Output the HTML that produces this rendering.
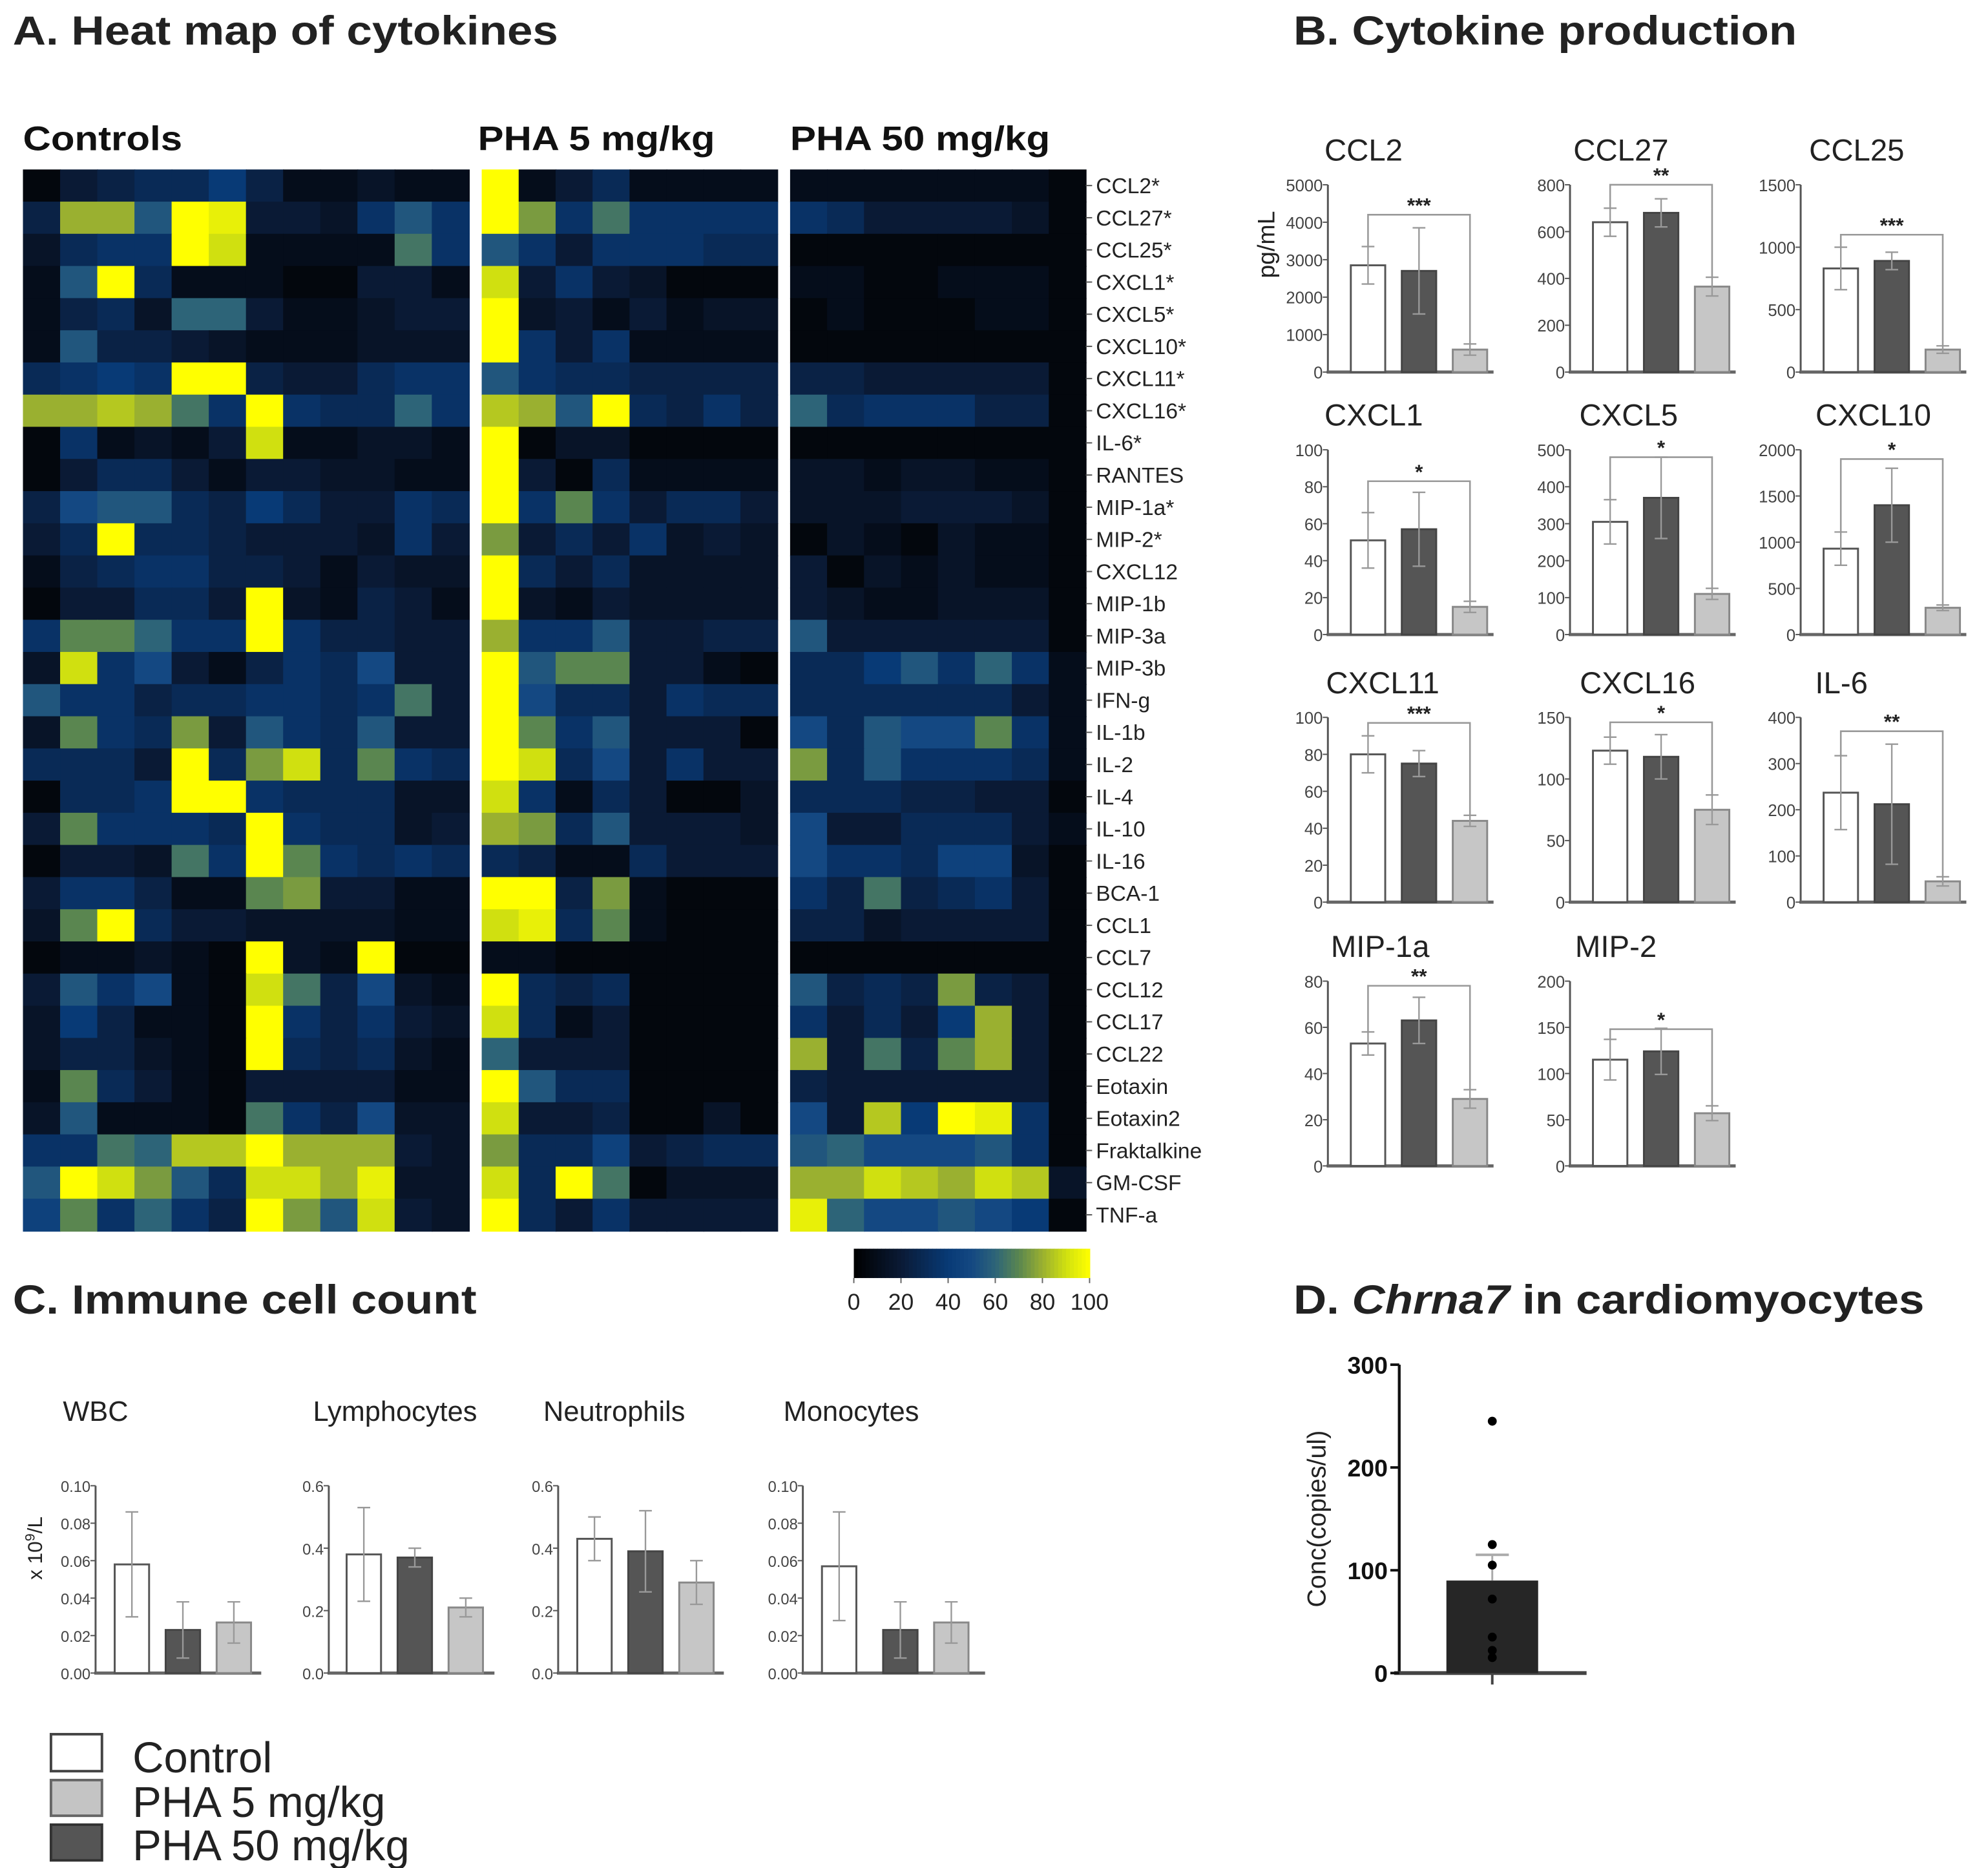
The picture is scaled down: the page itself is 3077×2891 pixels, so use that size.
<!DOCTYPE html>
<html><head><meta charset="utf-8"><style>
html,body{margin:0;padding:0;background:#fff;}
svg{display:block;font-family:"Liberation Sans",Arial,sans-serif;}
</style></head><body>
<svg id="fig" xmlns="http://www.w3.org/2000/svg" width="3077" height="2891" viewBox="0 0 1560 1466" preserveAspectRatio="none">
<rect x="0" y="0" width="1560" height="1466" fill="#fff"/>
<text x="10" y="35" font-size="32" font-weight="bold" textLength="428" lengthAdjust="spacingAndGlyphs" fill="#222">A. Heat map of cytokines</text>
<text x="1015" y="35" font-size="32" font-weight="bold" textLength="395" lengthAdjust="spacingAndGlyphs" fill="#222">B. Cytokine production</text>
<text x="10" y="1031" font-size="32" font-weight="bold" textLength="364" lengthAdjust="spacingAndGlyphs" fill="#222">C. Immune cell count</text>
<text x="1015" y="1031" font-size="32" font-weight="bold" textLength="495" lengthAdjust="spacingAndGlyphs" fill="#222">D. <tspan font-style="italic">Chrna7</tspan> in cardiomyocytes</text>
<text x="18" y="118" font-size="27" font-weight="bold" textLength="125" lengthAdjust="spacingAndGlyphs" fill="#111">Controls</text>
<text x="375" y="118" font-size="27" font-weight="bold" textLength="186" lengthAdjust="spacingAndGlyphs" fill="#111">PHA 5 mg/kg</text>
<text x="620" y="118" font-size="27" font-weight="bold" textLength="204" lengthAdjust="spacingAndGlyphs" fill="#111">PHA 50 mg/kg</text>
<g id="heat"></g>
<g id="cbar"></g>
<g id="panelB"></g>
<text transform="translate(1000,192) rotate(-90)" text-anchor="middle" font-size="19" fill="#222">pg/mL</text>
<g id="panelC"></g>
<text transform="translate(33,1215) rotate(-90)" text-anchor="middle" font-size="16" fill="#222">x 10<tspan dy="-6" font-size="11">9</tspan><tspan dy="6">/L</tspan></text>
<g id="panelD"></g>
<g>
<rect x="40" y="1361" width="40" height="29" fill="#fff" stroke="#444" stroke-width="2"/>
<text x="104" y="1391" font-size="34" fill="#222">Control</text>
<rect x="40" y="1397" width="40" height="28" fill="#c4c4c4" stroke="#666" stroke-width="2"/>
<text x="104" y="1426" font-size="34" fill="#222">PHA 5 mg/kg</text>
<rect x="40" y="1432" width="40" height="28" fill="#555" stroke="#333" stroke-width="2"/>
<text x="104" y="1460" font-size="34" fill="#222">PHA 50 mg/kg</text>
</g>
</svg>
<script>
// ---------- Heatmap data ----------
const heatRows = ["CCL2*","CCL27*","CCL25*","CXCL1*","CXCL5*","CXCL10*","CXCL11*","CXCL16*","IL-6*","RANTES","MIP-1a*","MIP-2*","CXCL12","MIP-1b","MIP-3a","MIP-3b","IFN-g","IL-1b","IL-2","IL-4","IL-10","IL-16","BCA-1","CCL1","CCL7","CCL12","CCL17","CCL22","Eotaxin","Eotaxin2","Fraktalkine","GM-CSF","TNF-a"];
const controlHeat = [
[5,20,25,30,30,40,25,10,10,15,10,10],
[25,80,80,55,100,95,20,20,15,35,55,35],
[15,30,35,35,100,90,10,10,10,10,65,35],
[10,55,100,30,10,10,10,5,5,20,20,10],
[10,25,30,15,60,60,20,10,10,15,20,20],
[10,55,25,25,20,15,10,10,10,15,15,15],
[30,35,40,35,100,100,25,20,20,30,35,35],
[80,80,85,80,65,35,100,35,30,30,60,35],
[5,35,10,15,10,20,90,10,10,15,15,10],
[5,20,30,30,20,10,20,20,15,15,10,10],
[25,50,55,55,30,25,40,30,20,20,35,30],
[20,30,100,30,30,25,20,20,20,15,35,20],
[10,25,30,35,35,25,25,20,10,20,15,15],
[5,20,20,30,30,20,100,15,10,25,20,10],
[35,70,70,60,35,35,100,35,25,25,20,20],
[15,90,35,50,20,10,25,35,30,50,20,20],
[55,35,35,25,30,30,35,35,30,35,65,20],
[15,70,35,30,75,20,55,35,30,55,20,20],
[30,30,30,20,100,30,75,90,30,70,35,30],
[5,30,30,35,100,100,35,30,30,30,15,15],
[20,70,35,35,35,30,100,35,30,30,15,20],
[5,20,20,15,65,35,100,70,35,30,35,30],
[20,35,35,25,10,10,70,75,20,20,10,10],
[15,70,100,30,20,20,15,15,15,15,10,10],
[5,10,10,15,10,5,100,15,10,100,5,5],
[20,55,35,50,10,5,90,65,25,50,15,10],
[15,40,25,10,10,5,100,35,25,35,20,15],
[15,25,25,15,10,5,100,30,25,30,15,10],
[10,70,30,20,10,5,20,20,20,20,10,10],
[15,55,10,10,10,5,65,35,25,50,15,15],
[35,35,65,60,85,85,100,80,80,80,20,15],
[55,100,90,75,55,30,90,90,80,95,15,15],
[45,70,35,60,35,25,100,75,55,90,20,15]];
const pha5Heat = [
[100,10,20,30,10,10,10,10],
[100,75,35,65,35,35,35,35],
[55,35,20,35,35,35,30,30],
[90,20,35,20,15,5,5,5],
[100,15,20,10,20,10,15,15],
[100,35,20,35,10,10,10,10],
[55,35,30,30,25,25,25,25],
[85,80,55,100,30,25,35,25],
[100,5,15,15,5,5,5,5],
[100,20,5,30,10,10,10,10],
[100,35,70,35,20,30,30,20],
[75,20,30,20,35,15,20,15],
[100,30,20,30,15,15,15,15],
[100,15,10,20,15,15,15,15],
[80,35,35,55,20,20,25,25],
[100,55,70,70,20,20,10,5],
[100,50,30,30,20,35,30,30],
[100,70,35,55,20,20,20,5],
[100,90,30,50,20,35,20,20],
[90,35,10,30,20,5,5,15],
[80,75,30,55,20,20,20,15],
[30,25,10,10,30,20,20,20],
[100,100,25,75,10,5,5,5],
[90,95,30,70,10,5,5,5],
[10,10,5,5,5,5,5,5],
[100,30,25,30,5,5,5,5],
[90,30,10,20,5,5,5,5],
[60,20,20,20,5,5,5,5],
[100,55,30,30,5,5,5,5],
[90,20,20,25,5,5,15,5],
[75,30,30,45,20,25,30,30],
[90,30,100,65,5,15,15,15],
[100,30,20,35,20,20,20,20]];
const pha50Heat = [
[10,10,10,10,10,10,10,5],
[35,30,20,20,20,20,15,5],
[5,5,5,5,5,5,5,5],
[10,10,5,5,10,10,10,5],
[5,10,5,5,5,10,10,5],
[5,5,5,5,5,5,5,5],
[25,25,20,20,20,20,20,5],
[60,30,35,35,35,25,25,5],
[5,5,5,5,5,5,5,5],
[15,15,10,15,15,10,10,5],
[15,15,15,20,20,20,15,5],
[5,15,10,5,15,10,10,5],
[20,5,15,10,15,10,10,5],
[20,15,10,10,15,15,15,5],
[55,20,20,20,20,20,20,5],
[30,30,40,55,35,60,35,10],
[30,30,30,30,30,30,20,10],
[50,30,55,50,50,70,35,10],
[75,30,55,35,35,35,30,10],
[30,30,30,25,25,20,20,5],
[50,20,20,30,30,30,20,10],
[50,35,35,30,45,45,15,5],
[35,25,65,25,30,35,20,5],
[25,25,15,20,20,20,20,5],
[5,5,5,5,5,5,5,5],
[55,25,30,25,75,25,20,5],
[35,20,30,20,40,80,20,5],
[80,20,65,25,70,80,20,5],
[25,20,20,20,20,20,20,5],
[50,20,85,40,100,95,35,5],
[55,60,50,50,50,55,35,5],
[80,80,90,85,80,90,85,15],
[95,60,50,50,55,50,40,5]];
const colorbarTicks = [0,20,40,60,80,100];

// ---------- Panel B data ----------
const cytoNames = ["CCL2","CCL27","CCL25","CXCL1","CXCL5","CXCL10","CXCL11","CXCL16","IL-6","MIP-1a","MIP-2"];
const cytoMeans = [[2850,2700,600],[640,680,365],[830,890,180],[51,57,15],[305,370,110],[930,1400,290],[80,75,44],[123,118,75],[237,212,45],[53,63,29],[115,124,57]];
const cytoErrors = [[500,1150,150],[60,60,40],[170,70,30],[15,20,3],[60,110,15],[180,400,30],[10,7,3],[11,18,12],[80,130,10],[5,10,4],[22,25,8]];
const cytoAxisMax = [5000,800,1500,100,500,2000,100,150,400,80,200];
const cytoTickStep = [1000,200,500,20,100,500,20,50,100,20,50];
const cytoSigLevel = [4200,800,1100,83,480,1900,97,146,370,78,148];
const cytoStars = ["***","**","***","*","*","*","***","*","**","**","*"];

// ---------- Panel C data ----------
const cellNames = ["WBC","Lymphocytes","Neutrophils","Monocytes"];
const cellMeans = [[0.058,0.023,0.027],[0.38,0.37,0.21],[0.43,0.39,0.29],[0.057,0.023,0.027]];
const cellErrors = [[0.028,0.015,0.011],[0.15,0.03,0.03],[0.07,0.13,0.07],[0.029,0.015,0.011]];
const cellAxisMax = [0.10,0.6,0.6,0.10];
const cellTicks = [["0.00","0.02","0.04","0.06","0.08","0.10"],["0.0","0.2","0.4","0.6"],["0.0","0.2","0.4","0.6"],["0.00","0.02","0.04","0.06","0.08","0.10"]];

// ---------- Panel D data ----------
const chrnaMean = 90;
const chrnaError = 25;
const chrnaPoints = [245,125,105,72,35,22,15];
const chrnaTicks = [0,100,200,300];

const NS = "http://www.w3.org/2000/svg";
function mk(tag, attrs, parent){
  const e = document.createElementNS(NS, tag);
  for (const k in attrs) e.setAttribute(k, attrs[k]);
  parent.appendChild(e);
  return e;
}
const stops = [[0,[0,0,0]],[20,[10,26,53]],[40,[8,58,118]],[50,[20,72,130]],[60,[45,100,120]],[70,[90,134,80]],[80,[154,176,48]],[90,[208,224,16]],[100,[255,255,0]]];
function cmap(v){
  v = Math.max(0, Math.min(100, v));
  for (let i=1;i<stops.length;i++){
    if (v <= stops[i][0]){
      const a=stops[i-1], b=stops[i], t=(v-a[0])/(b[0]-a[0]);
      const c=a[1].map((x,j)=>Math.round(x+(b[1][j]-x)*t));
      return "rgb("+c.join(",")+")";
    }
  }
  return "rgb(255,255,0)";
}

// ---------- Heatmap ----------
const heat = document.getElementById("heat");
const hTop = 133, hBot = 966;
const rowH = (hBot-hTop)/heatRows.length;
function rowY(i){ return hTop + i*rowH; }
function drawBlock(data, x0, x1, name){
  const g = mk("g", {}, heat);
  
  
  const nc = data[0].length, cw = (x1-x0)/nc;
  data.forEach((row,i)=>row.forEach((v,j)=>{
    const r = mk("rect", {x:(x0+j*cw).toFixed(2), y:rowY(i).toFixed(2), width:(cw+0.6).toFixed(2), height:(rowH+0.6).toFixed(2), fill:cmap(v)}, g);
    
    
  }));
}
drawBlock(controlHeat, 18, 368, "controls-heat-block");
drawBlock(pha5Heat, 378, 610, "pha5-heat-block");
drawBlock(pha50Heat, 620, 852, "pha50-heat-block");
heatRows.forEach((n,i)=>{
  const cy = rowY(i)+rowH/2;
  mk("line",{x1:852,x2:857,y1:cy,y2:cy,stroke:"#555","stroke-width":1},heat);
  const t = mk("text",{x:860,y:cy+6,"font-size":17,fill:"#222"},heat);
  t.textContent = n;
  
  
});

// ---------- Colorbar ----------
const cb = document.getElementById("cbar");
const cbX0=670, cbX1=855, cbY=980, cbH=23;
for (let k=0;k<60;k++){
  const v0 = k*100/60;
  mk("rect",{x:(cbX0+(cbX1-cbX0)*k/60).toFixed(2),y:cbY,width:((cbX1-cbX0)/60+0.5).toFixed(2),height:cbH,fill:cmap(v0+100/120)},cb);
}
colorbarTicks.forEach(v=>{
  const x = cbX0+(cbX1-cbX0)*v/100;
  mk("line",{x1:x,x2:x,y1:cbY+cbH,y2:cbY+cbH+4,stroke:"#666"},cb);
  const t = mk("text",{x:x,y:1028,"text-anchor":"middle","font-size":18,fill:"#222"},cb);
  t.textContent = v;
  
  
});

// ---------- Bar chart helper ----------
const barFill = ["#ffffff","#555555","#c6c6c6"];
const barStroke = ["#555","#444","#888"];
function barChart(parent, o){
  const g = mk("g",{},parent);
  
  
  const ys = v => o.yBot - (v/o.max)*(o.yBot-o.yTop);
  mk("line",{x1:o.ax,x2:o.ax,y1:o.yTop,y2:o.yBot,stroke:"#555","stroke-width":1.5},g);
  mk("line",{x1:o.ax-1,x2:o.ax+o.axLen,y1:o.yBot,y2:o.yBot,stroke:"#666","stroke-width":2.5},g);
  o.ticks.forEach((lab,i)=>{
    const v = o.tickVals[i], y = ys(v);
    mk("line",{x1:o.ax-4,x2:o.ax,y1:y,y2:y,stroke:"#555"},g);
    const t = mk("text",{x:o.ax-4,y:y+5,"text-anchor":"end","font-size":o.tickFont,fill:"#444"},g);
    t.textContent = lab;
    
    
  });
  o.means.forEach((m,i)=>{
    const x = o.ax + o.barOff[i];
    const r = mk("rect",{x:x,y:ys(m),width:o.bw,height:o.yBot-ys(m),fill:barFill[i],stroke:barStroke[i],"stroke-width":1.5},g);
    
    
    const cx = x+o.bw/2, e = o.errs[i];
    mk("line",{x1:cx,x2:cx,y1:ys(m-e),y2:ys(m+e),stroke:"#999","stroke-width":1.2},g);
    mk("line",{x1:cx-5,x2:cx+5,y1:ys(m+e),y2:ys(m+e),stroke:"#999","stroke-width":1.2},g);
    mk("line",{x1:cx-5,x2:cx+5,y1:ys(m-e),y2:ys(m-e),stroke:"#999","stroke-width":1.2},g);
  });
  if (o.sig !== undefined){
    const c1 = o.ax+o.barOff[0]+o.bw/2, c3 = o.ax+o.barOff[2]+o.bw/2, ysig = ys(o.sig);
    mk("polyline",{points:`${c1},${ys(o.means[0]+o.errs[0])} ${c1},${ysig} ${c3},${ysig} ${c3},${ys(o.means[2]+o.errs[2])}`,fill:"none",stroke:"#999","stroke-width":1.3},g);
    const t = mk("text",{x:(c1+c3)/2,y:ysig-2,"text-anchor":"middle","font-size":16,"font-weight":"bold",fill:"#222"},g);
    t.textContent = o.stars;
    
    
  }
  const tt = mk("text",{x:o.titleX,y:o.titleY,"text-anchor":"middle","font-size":o.titleFont,fill:"#222"},g);
  tt.textContent = o.name;
  
  
}

// ---------- Panel B ----------
const pB = document.getElementById("panelB");
const colAx = [1042,1232,1413];
const rowTop = [145,353,563,770], rowBot = [292,498,708,915];
const titleXs = [1070,1272,1457,1078,1278,1470,1085,1285,1445,1083,1268];
cytoNames.forEach((n,i)=>{
  const c = i%3, r = Math.floor(i/3);
  const tv = [], tl = [];
  for (let v=0; v<=cytoAxisMax[i]+1e-9; v+=cytoTickStep[i]){ tv.push(v); tl.push(String(v)); }
  barChart(pB,{name:n, ax:colAx[c], yTop:rowTop[r], yBot:rowBot[r], max:cytoAxisMax[i], means:cytoMeans[i], errs:cytoErrors[i],
    ticks:tl, tickVals:tv, tickFont:13, barOff:[18,58,98], bw:27, axLen:130, sig:cytoSigLevel[i], stars:cytoStars[i],
    titleX:titleXs[i], titleY:rowTop[r]-19, titleFont:24});
});

// ---------- Panel C ----------
const pC = document.getElementById("panelC");
const cAx = [75,258,438,630];
const cTitleX = [75,310,482,668];
const cOff = [[15,55,95],[14,54,94],[15,55,95],[15,63,103]];
cellNames.forEach((n,i)=>{
  const tv = cellTicks[i].map(parseFloat);
  barChart(pC,{name:n, ax:cAx[i], yTop:1166, yBot:1313, max:cellAxisMax[i], means:cellMeans[i], errs:cellErrors[i],
    ticks:cellTicks[i], tickVals:tv, tickFont:12, barOff:cOff[i], bw:27, axLen:i==3?143:130,
    titleX:cTitleX[i], titleY:1115, titleFont:22});
});

// ---------- Panel D ----------
const pD = document.getElementById("panelD");
const dAx=1098, dTop=1071, dBot=1313, dMax=300;
const dy = v => dBot - v/dMax*(dBot-dTop);
mk("line",{x1:dAx,x2:dAx,y1:dTop,y2:dBot,stroke:"#111","stroke-width":2.2},pD);
mk("line",{x1:dAx-4,x2:1245,y1:dBot,y2:dBot,stroke:"#444","stroke-width":3},pD);
chrnaTicks.forEach(v=>{
  mk("line",{x1:dAx-7,x2:dAx,y1:dy(v),y2:dy(v),stroke:"#111","stroke-width":2},pD);
  const t = mk("text",{x:dAx-9,y:dy(v)+7,"text-anchor":"end","font-size":19,"font-weight":"bold",fill:"#111"},pD);
  t.textContent = v;
  
  
});
const dBar = mk("rect",{x:1135,y:dy(chrnaMean),width:72,height:dBot-dy(chrnaMean),fill:"#262626"},pD);


mk("line",{x1:1171,x2:1171,y1:dy(chrnaMean),y2:dy(chrnaMean+chrnaError),stroke:"#aaa","stroke-width":1.5},pD);
mk("line",{x1:1158,x2:1184,y1:dy(chrnaMean+chrnaError),y2:dy(chrnaMean+chrnaError),stroke:"#aaa","stroke-width":2},pD);
mk("line",{x1:1171,x2:1171,y1:dBot,y2:dBot+9,stroke:"#444","stroke-width":2},pD);
chrnaPoints.forEach(v=>{
  const c = mk("circle",{cx:1171,cy:dy(v),r:3.5,fill:"#000"},pD);
  
  
});
const dl = mk("text",{transform:"translate(1040,1192) rotate(-90)","text-anchor":"middle","font-size":20,fill:"#222"},pD);
dl.textContent = "Conc(copies/ul)";


</script>
</body></html>
